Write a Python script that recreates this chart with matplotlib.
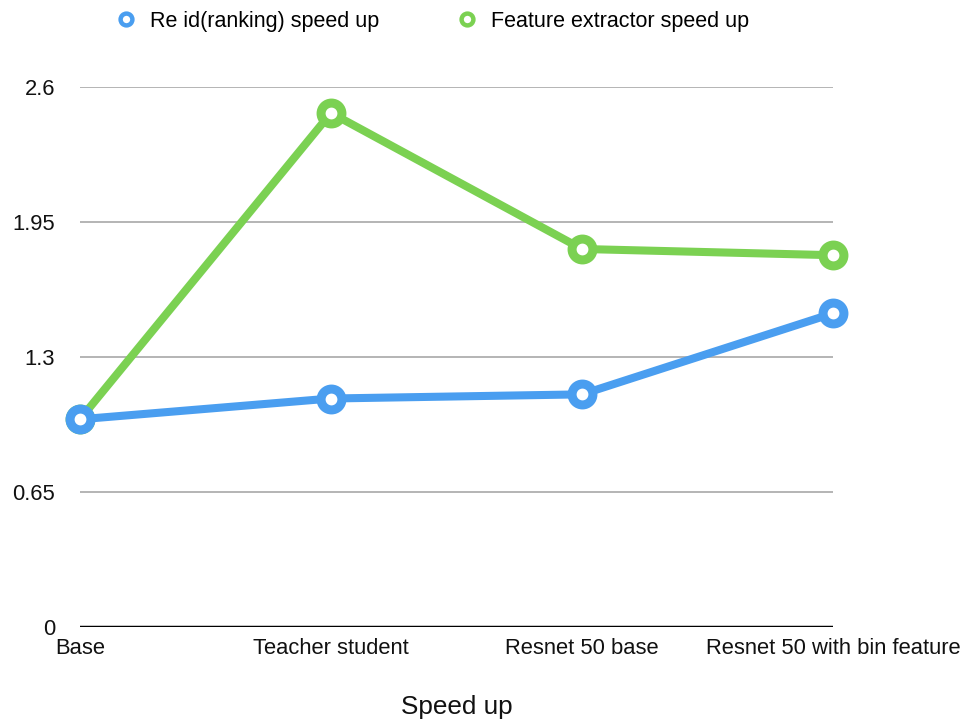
import matplotlib.pyplot as plt
from matplotlib.lines import Line2D

plt.rcParams['font.family'] = ['Liberation Sans', 'DejaVu Sans']

categories = ['Base', 'Teacher student', 'Resnet 50 base', 'Resnet 50 with bin feature']
reid_speedup = [1.0, 1.10, 1.12, 1.51]
feature_speedup = [1.0, 2.475, 1.82, 1.79]
yticks = [0, 0.65, 1.3, 1.95, 2.6]
ytick_labels = ['0', '0.65', '1.3', '1.95', '2.6']

blue = '#4a9ef0'
green = '#7bd152'

fig = plt.figure(figsize=(9.67, 7.26), dpi=100)
ax = fig.add_axes([0.0827, 0.1364, 0.7787, 0.7438])

x = list(range(len(categories)))
for vals, col in [(feature_speedup, green), (reid_speedup, blue)]:
    ax.plot(x, vals, color=col, lw=5.8, marker='o', ms=15, mew=6.5,
            mfc='white', mec=col, clip_on=False, zorder=3,
            solid_capstyle='round')

ax.set_xlim(0, 3)
ax.set_ylim(0, 2.6)
ax.set_yticks(yticks)
ax.set_yticklabels(ytick_labels)
ax.set_xticks(x)
ax.set_xticklabels(categories)
ax.tick_params(length=0, labelsize=15.8, colors='#111111')
ax.tick_params(axis='y', pad=18)
ax.tick_params(axis='x', pad=8)
ax.grid(axis='y', color='#a8a8a8', lw=1.2)
ax.axhline(0, color='black', lw=2.5, zorder=2)
for s in ax.spines.values():
    s.set_visible(False)
ax.set_xlabel('Speed up', fontsize=18.8, labelpad=26, color='#111111')

handles = [Line2D([], [], ls='none', marker='o', ms=8.5, mew=3.2, mfc='white', mec=blue),
           Line2D([], [], ls='none', marker='o', ms=8.5, mew=3.2, mfc='white', mec=green)]
fig.legend(handles, ['Re id(ranking) speed up', 'Feature extractor speed up'],
           loc='center left', bbox_to_anchor=(0.099, 0.971), ncol=2, frameon=False,
           fontsize=15.5, handletextpad=0.6, columnspacing=3.6, handlelength=1.0)

fig.savefig('out.png', dpi=100)
